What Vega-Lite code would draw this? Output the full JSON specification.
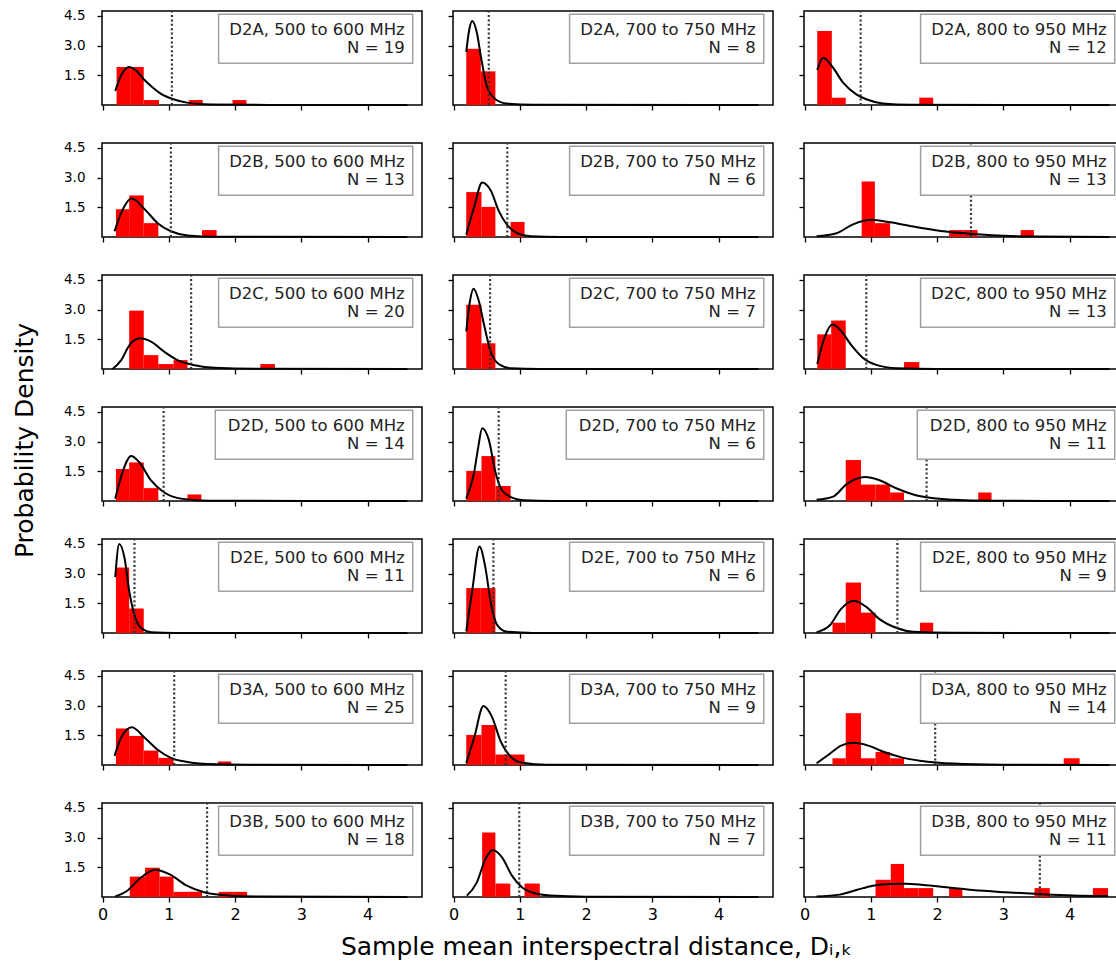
{
"$schema": "https://vega.github.io/schema/vega-lite/v6.json",
"padding": {"left": 11, "top": 8, "right": 0, "bottom": 0},
"background": "white",
"data": {"values": [
{"p":"r1c1","k":"t","x":1.045,"lab":"D2A, 500 to 600 MHz","nl":"N = 19"},
{"p":"r1c1","k":"b","x":0.21,"x2":0.415,"y":1.92},{"p":"r1c1","k":"b","x":0.415,"x2":0.62,"y":1.92},{"p":"r1c1","k":"b","x":0.62,"x2":0.85,"y":0.25},{"p":"r1c1","k":"b","x":1.30,"x2":1.51,"y":0.25},{"p":"r1c1","k":"b","x":1.96,"x2":2.17,"y":0.25},
{"p":"r1c1","k":"c","x":0.19,"y":0.71},{"p":"r1c1","k":"c","x":0.28,"y":1.5},{"p":"r1c1","k":"c","x":0.40,"y":1.92},{"p":"r1c1","k":"c","x":0.50,"y":1.75},{"p":"r1c1","k":"c","x":0.62,"y":1.30},{"p":"r1c1","k":"c","x":0.75,"y":0.90},{"p":"r1c1","k":"c","x":0.87,"y":0.59},{"p":"r1c1","k":"c","x":1.07,"y":0.29},{"p":"r1c1","k":"c","x":1.27,"y":0.12},{"p":"r1c1","k":"c","x":1.63,"y":0.03},{"p":"r1c1","k":"c","x":2.5,"y":0.005},{"p":"r1c1","k":"c","x":4.6,"y":0},
{"p":"r1c2","k":"t","x":0.53,"lab":"D2A, 700 to 750 MHz","nl":"N = 8"},
{"p":"r1c2","k":"b","x":0.19,"x2":0.41,"y":2.84},{"p":"r1c2","k":"b","x":0.41,"x2":0.63,"y":1.70},
{"p":"r1c2","k":"c","x":0.19,"y":2.68},{"p":"r1c2","k":"c","x":0.235,"y":3.8},{"p":"r1c2","k":"c","x":0.28,"y":4.24},{"p":"r1c2","k":"c","x":0.35,"y":3.65},{"p":"r1c2","k":"c","x":0.41,"y":2.47},{"p":"r1c2","k":"c","x":0.50,"y":0.96},{"p":"r1c2","k":"c","x":0.63,"y":0.29},{"p":"r1c2","k":"c","x":0.80,"y":0.07},{"p":"r1c2","k":"c","x":1.2,"y":0.01},{"p":"r1c2","k":"c","x":4.6,"y":0},
{"p":"r1c3","k":"t","x":0.845,"lab":"D2A, 800 to 950 MHz","nl":"N = 12"},
{"p":"r1c3","k":"b","x":0.19,"x2":0.41,"y":3.74},{"p":"r1c3","k":"b","x":0.41,"x2":0.62,"y":0.37},{"p":"r1c3","k":"b","x":1.73,"x2":1.94,"y":0.37},
{"p":"r1c3","k":"c","x":0.19,"y":1.77},{"p":"r1c3","k":"c","x":0.28,"y":2.39},{"p":"r1c3","k":"c","x":0.41,"y":1.97},{"p":"r1c3","k":"c","x":0.58,"y":1.13},{"p":"r1c3","k":"c","x":0.78,"y":0.54},{"p":"r1c3","k":"c","x":0.93,"y":0.29},{"p":"r1c3","k":"c","x":1.18,"y":0.08},{"p":"r1c3","k":"c","x":1.6,"y":0.01},{"p":"r1c3","k":"c","x":4.6,"y":0},
{"p":"r2c1","k":"t","x":1.03,"lab":"D2B, 500 to 600 MHz","nl":"N = 13"},
{"p":"r2c1","k":"b","x":0.20,"x2":0.40,"y":1.40},{"p":"r2c1","k":"b","x":0.40,"x2":0.62,"y":2.10},{"p":"r2c1","k":"b","x":0.62,"x2":0.84,"y":0.70},{"p":"r2c1","k":"b","x":1.50,"x2":1.72,"y":0.35},
{"p":"r2c1","k":"c","x":0.18,"y":0.29},{"p":"r2c1","k":"c","x":0.28,"y":1.22},{"p":"r2c1","k":"c","x":0.44,"y":1.94},{"p":"r2c1","k":"c","x":0.63,"y":1.42},{"p":"r2c1","k":"c","x":0.83,"y":0.70},{"p":"r2c1","k":"c","x":1.03,"y":0.29},{"p":"r2c1","k":"c","x":1.28,"y":0.08},{"p":"r2c1","k":"c","x":1.7,"y":0.01},{"p":"r2c1","k":"c","x":4.6,"y":0},
{"p":"r2c2","k":"t","x":0.81,"lab":"D2B, 700 to 750 MHz","nl":"N = 6"},
{"p":"r2c2","k":"b","x":0.19,"x2":0.42,"y":2.27},{"p":"r2c2","k":"b","x":0.42,"x2":0.63,"y":1.52},{"p":"r2c2","k":"b","x":0.86,"x2":1.07,"y":0.76},
{"p":"r2c2","k":"c","x":0.19,"y":0.12},{"p":"r2c2","k":"c","x":0.31,"y":1.53},{"p":"r2c2","k":"c","x":0.43,"y":2.76},{"p":"r2c2","k":"c","x":0.56,"y":2.35},{"p":"r2c2","k":"c","x":0.68,"y":1.32},{"p":"r2c2","k":"c","x":0.81,"y":0.60},{"p":"r2c2","k":"c","x":0.96,"y":0.19},{"p":"r2c2","k":"c","x":1.16,"y":0.04},{"p":"r2c2","k":"c","x":1.6,"y":0},{"p":"r2c2","k":"c","x":4.6,"y":0},
{"p":"r2c3","k":"t","x":2.51,"lab":"D2B, 800 to 950 MHz","nl":"N = 13"},
{"p":"r2c3","k":"b","x":0.86,"x2":1.06,"y":2.80},{"p":"r2c3","k":"b","x":1.06,"x2":1.29,"y":0.70},{"p":"r2c3","k":"b","x":2.18,"x2":2.40,"y":0.35},{"p":"r2c3","k":"b","x":2.40,"x2":2.61,"y":0.35},{"p":"r2c3","k":"b","x":3.26,"x2":3.46,"y":0.35},
{"p":"r2c3","k":"c","x":0.18,"y":0.04},{"p":"r2c3","k":"c","x":0.48,"y":0.19},{"p":"r2c3","k":"c","x":0.73,"y":0.64},{"p":"r2c3","k":"c","x":1.01,"y":0.87},{"p":"r2c3","k":"c","x":1.29,"y":0.74},{"p":"r2c3","k":"c","x":1.59,"y":0.56},{"p":"r2c3","k":"c","x":1.89,"y":0.39},{"p":"r2c3","k":"c","x":2.19,"y":0.25},{"p":"r2c3","k":"c","x":2.6,"y":0.14},{"p":"r2c3","k":"c","x":3.0,"y":0.06},{"p":"r2c3","k":"c","x":3.5,"y":0.02},{"p":"r2c3","k":"c","x":4.6,"y":0},
{"p":"r3c1","k":"t","x":1.335,"lab":"D2C, 500 to 600 MHz","nl":"N = 20"},
{"p":"r3c1","k":"b","x":0.40,"x2":0.62,"y":2.95},{"p":"r3c1","k":"b","x":0.62,"x2":0.84,"y":0.70},{"p":"r3c1","k":"b","x":0.84,"x2":1.07,"y":0.25},{"p":"r3c1","k":"b","x":1.07,"x2":1.28,"y":0.45},{"p":"r3c1","k":"b","x":2.38,"x2":2.60,"y":0.25},
{"p":"r3c1","k":"c","x":0.15,"y":0},{"p":"r3c1","k":"c","x":0.28,"y":0.45},{"p":"r3c1","k":"c","x":0.40,"y":1.18},{"p":"r3c1","k":"c","x":0.56,"y":1.55},{"p":"r3c1","k":"c","x":0.73,"y":1.38},{"p":"r3c1","k":"c","x":0.93,"y":0.87},{"p":"r3c1","k":"c","x":1.13,"y":0.45},{"p":"r3c1","k":"c","x":1.39,"y":0.19},{"p":"r3c1","k":"c","x":1.69,"y":0.06},{"p":"r3c1","k":"c","x":2.3,"y":0.01},{"p":"r3c1","k":"c","x":4.6,"y":0},
{"p":"r3c2","k":"t","x":0.55,"lab":"D2C, 700 to 750 MHz","nl":"N = 7"},
{"p":"r3c2","k":"b","x":0.19,"x2":0.42,"y":3.25},{"p":"r3c2","k":"b","x":0.42,"x2":0.63,"y":1.30},
{"p":"r3c2","k":"c","x":0.19,"y":1.90},{"p":"r3c2","k":"c","x":0.24,"y":3.3},{"p":"r3c2","k":"c","x":0.30,"y":4.06},{"p":"r3c2","k":"c","x":0.38,"y":3.44},{"p":"r3c2","k":"c","x":0.46,"y":2.21},{"p":"r3c2","k":"c","x":0.56,"y":0.87},{"p":"r3c2","k":"c","x":0.68,"y":0.25},{"p":"r3c2","k":"c","x":0.86,"y":0.04},{"p":"r3c2","k":"c","x":1.3,"y":0},{"p":"r3c2","k":"c","x":4.6,"y":0},
{"p":"r3c3","k":"t","x":0.93,"lab":"D2C, 800 to 950 MHz","nl":"N = 13"},
{"p":"r3c3","k":"b","x":0.19,"x2":0.40,"y":1.75},{"p":"r3c3","k":"b","x":0.40,"x2":0.62,"y":2.45},{"p":"r3c3","k":"b","x":1.50,"x2":1.73,"y":0.35},
{"p":"r3c3","k":"c","x":0.19,"y":0.25},{"p":"r3c3","k":"c","x":0.30,"y":1.59},{"p":"r3c3","k":"c","x":0.42,"y":2.25},{"p":"r3c3","k":"c","x":0.53,"y":2.0},{"p":"r3c3","k":"c","x":0.71,"y":1.18},{"p":"r3c3","k":"c","x":0.88,"y":0.56},{"p":"r3c3","k":"c","x":1.08,"y":0.21},{"p":"r3c3","k":"c","x":1.39,"y":0.04},{"p":"r3c3","k":"c","x":2.0,"y":0},{"p":"r3c3","k":"c","x":4.6,"y":0},
{"p":"r4c1","k":"t","x":0.92,"lab":"D2D, 500 to 600 MHz","nl":"N = 14"},
{"p":"r4c1","k":"b","x":0.20,"x2":0.40,"y":1.62},{"p":"r4c1","k":"b","x":0.40,"x2":0.62,"y":1.95},{"p":"r4c1","k":"b","x":0.62,"x2":0.84,"y":0.65},{"p":"r4c1","k":"b","x":1.28,"x2":1.49,"y":0.33},
{"p":"r4c1","k":"c","x":0.19,"y":0.12},{"p":"r4c1","k":"c","x":0.30,"y":1.46},{"p":"r4c1","k":"c","x":0.43,"y":2.28},{"p":"r4c1","k":"c","x":0.55,"y":1.97},{"p":"r4c1","k":"c","x":0.73,"y":1.04},{"p":"r4c1","k":"c","x":0.93,"y":0.43},{"p":"r4c1","k":"c","x":1.18,"y":0.12},{"p":"r4c1","k":"c","x":1.6,"y":0.01},{"p":"r4c1","k":"c","x":4.6,"y":0},
{"p":"r4c2","k":"t","x":0.68,"lab":"D2D, 700 to 750 MHz","nl":"N = 6"},
{"p":"r4c2","k":"b","x":0.19,"x2":0.42,"y":1.52},{"p":"r4c2","k":"b","x":0.42,"x2":0.63,"y":2.27},{"p":"r4c2","k":"b","x":0.63,"x2":0.86,"y":0.76},
{"p":"r4c2","k":"c","x":0.19,"y":0.12},{"p":"r4c2","k":"c","x":0.31,"y":1.46},{"p":"r4c2","k":"c","x":0.37,"y":2.7},{"p":"r4c2","k":"c","x":0.43,"y":3.68},{"p":"r4c2","k":"c","x":0.53,"y":3.1},{"p":"r4c2","k":"c","x":0.63,"y":1.46},{"p":"r4c2","k":"c","x":0.73,"y":0.53},{"p":"r4c2","k":"c","x":0.89,"y":0.16},{"p":"r4c2","k":"c","x":1.06,"y":0.04},{"p":"r4c2","k":"c","x":1.5,"y":0},{"p":"r4c2","k":"c","x":4.6,"y":0},
{"p":"r4c3","k":"t","x":1.84,"lab":"D2D, 800 to 950 MHz","nl":"N = 11"},
{"p":"r4c3","k":"b","x":0.62,"x2":0.85,"y":2.07},{"p":"r4c3","k":"b","x":0.85,"x2":1.07,"y":0.83},{"p":"r4c3","k":"b","x":1.07,"x2":1.29,"y":0.83},{"p":"r4c3","k":"b","x":1.29,"x2":1.50,"y":0.43},{"p":"r4c3","k":"b","x":2.62,"x2":2.82,"y":0.43},
{"p":"r4c3","k":"c","x":0.18,"y":0.06},{"p":"r4c3","k":"c","x":0.43,"y":0.22},{"p":"r4c3","k":"c","x":0.63,"y":0.84},{"p":"r4c3","k":"c","x":0.91,"y":1.21},{"p":"r4c3","k":"c","x":1.13,"y":1.05},{"p":"r4c3","k":"c","x":1.39,"y":0.63},{"p":"r4c3","k":"c","x":1.64,"y":0.33},{"p":"r4c3","k":"c","x":1.89,"y":0.16},{"p":"r4c3","k":"c","x":2.24,"y":0.06},{"p":"r4c3","k":"c","x":2.8,"y":0.01},{"p":"r4c3","k":"c","x":4.6,"y":0},
{"p":"r5c1","k":"t","x":0.48,"lab":"D2E, 500 to 600 MHz","nl":"N = 11"},
{"p":"r5c1","k":"b","x":0.20,"x2":0.40,"y":3.31},{"p":"r5c1","k":"b","x":0.40,"x2":0.62,"y":1.24},
{"p":"r5c1","k":"c","x":0.19,"y":2.82},{"p":"r5c1","k":"c","x":0.25,"y":4.5},{"p":"r5c1","k":"c","x":0.33,"y":3.79},{"p":"r5c1","k":"c","x":0.40,"y":2.14},{"p":"r5c1","k":"c","x":0.48,"y":0.91},{"p":"r5c1","k":"c","x":0.58,"y":0.25},{"p":"r5c1","k":"c","x":0.73,"y":0.04},{"p":"r5c1","k":"c","x":1.1,"y":0},{"p":"r5c1","k":"c","x":4.6,"y":0},
{"p":"r5c2","k":"t","x":0.60,"lab":"D2E, 700 to 750 MHz","nl":"N = 6"},
{"p":"r5c2","k":"b","x":0.19,"x2":0.41,"y":2.27},{"p":"r5c2","k":"b","x":0.41,"x2":0.63,"y":2.27},
{"p":"r5c2","k":"c","x":0.19,"y":0.08},{"p":"r5c2","k":"c","x":0.28,"y":2.14},{"p":"r5c2","k":"c","x":0.39,"y":4.37},{"p":"r5c2","k":"c","x":0.48,"y":3.28},{"p":"r5c2","k":"c","x":0.56,"y":1.53},{"p":"r5c2","k":"c","x":0.66,"y":0.39},{"p":"r5c2","k":"c","x":0.81,"y":0.06},{"p":"r5c2","k":"c","x":1.2,"y":0},{"p":"r5c2","k":"c","x":4.6,"y":0},
{"p":"r5c3","k":"t","x":1.40,"lab":"D2E, 800 to 950 MHz","nl":"N = 9"},
{"p":"r5c3","k":"b","x":0.42,"x2":0.62,"y":0.52},{"p":"r5c3","k":"b","x":0.62,"x2":0.85,"y":2.55},{"p":"r5c3","k":"b","x":0.85,"x2":1.07,"y":1.03},{"p":"r5c3","k":"b","x":1.74,"x2":1.94,"y":0.52},
{"p":"r5c3","k":"c","x":0.18,"y":0.04},{"p":"r5c3","k":"c","x":0.38,"y":0.39},{"p":"r5c3","k":"c","x":0.55,"y":1.22},{"p":"r5c3","k":"c","x":0.74,"y":1.63},{"p":"r5c3","k":"c","x":0.93,"y":1.32},{"p":"r5c3","k":"c","x":1.13,"y":0.70},{"p":"r5c3","k":"c","x":1.39,"y":0.25},{"p":"r5c3","k":"c","x":1.64,"y":0.06},{"p":"r5c3","k":"c","x":2.2,"y":0.01},{"p":"r5c3","k":"c","x":4.6,"y":0},
{"p":"r6c1","k":"t","x":1.08,"lab":"D3A, 500 to 600 MHz","nl":"N = 25"},
{"p":"r6c1","k":"b","x":0.20,"x2":0.40,"y":1.84},{"p":"r6c1","k":"b","x":0.40,"x2":0.62,"y":1.47},{"p":"r6c1","k":"b","x":0.62,"x2":0.84,"y":0.73},{"p":"r6c1","k":"b","x":0.84,"x2":1.07,"y":0.36},{"p":"r6c1","k":"b","x":1.74,"x2":1.94,"y":0.18},
{"p":"r6c1","k":"c","x":0.18,"y":0.46},{"p":"r6c1","k":"c","x":0.28,"y":1.39},{"p":"r6c1","k":"c","x":0.44,"y":1.91},{"p":"r6c1","k":"c","x":0.63,"y":1.39},{"p":"r6c1","k":"c","x":0.83,"y":0.77},{"p":"r6c1","k":"c","x":1.03,"y":0.36},{"p":"r6c1","k":"c","x":1.28,"y":0.15},{"p":"r6c1","k":"c","x":1.59,"y":0.05},{"p":"r6c1","k":"c","x":2.2,"y":0.01},{"p":"r6c1","k":"c","x":4.6,"y":0},
{"p":"r6c2","k":"t","x":0.785,"lab":"D3A, 700 to 750 MHz","nl":"N = 9"},
{"p":"r6c2","k":"b","x":0.19,"x2":0.42,"y":1.52},{"p":"r6c2","k":"b","x":0.42,"x2":0.63,"y":2.02},{"p":"r6c2","k":"b","x":0.63,"x2":0.85,"y":0.53},{"p":"r6c2","k":"b","x":0.85,"x2":1.07,"y":0.53},
{"p":"r6c2","k":"c","x":0.19,"y":0.09},{"p":"r6c2","k":"c","x":0.31,"y":1.39},{"p":"r6c2","k":"c","x":0.45,"y":2.98},{"p":"r6c2","k":"c","x":0.58,"y":2.42},{"p":"r6c2","k":"c","x":0.71,"y":1.19},{"p":"r6c2","k":"c","x":0.86,"y":0.42},{"p":"r6c2","k":"c","x":1.04,"y":0.11},{"p":"r6c2","k":"c","x":1.4,"y":0.01},{"p":"r6c2","k":"c","x":4.6,"y":0},
{"p":"r6c3","k":"t","x":1.97,"lab":"D3A, 800 to 950 MHz","nl":"N = 14"},
{"p":"r6c3","k":"b","x":0.42,"x2":0.62,"y":0.34},{"p":"r6c3","k":"b","x":0.62,"x2":0.85,"y":2.62},{"p":"r6c3","k":"b","x":0.85,"x2":1.07,"y":0.34},{"p":"r6c3","k":"b","x":1.07,"x2":1.29,"y":0.66},{"p":"r6c3","k":"b","x":1.29,"x2":1.50,"y":0.34},{"p":"r6c3","k":"b","x":3.91,"x2":4.15,"y":0.34},
{"p":"r6c3","k":"c","x":0.18,"y":0.09},{"p":"r6c3","k":"c","x":0.38,"y":0.57},{"p":"r6c3","k":"c","x":0.55,"y":0.98},{"p":"r6c3","k":"c","x":0.73,"y":1.12},{"p":"r6c3","k":"c","x":0.96,"y":0.98},{"p":"r6c3","k":"c","x":1.19,"y":0.67},{"p":"r6c3","k":"c","x":1.49,"y":0.36},{"p":"r6c3","k":"c","x":1.89,"y":0.15},{"p":"r6c3","k":"c","x":2.40,"y":0.05},{"p":"r6c3","k":"c","x":3.2,"y":0.01},{"p":"r6c3","k":"c","x":4.6,"y":0},
{"p":"r7c1","k":"t","x":1.576,"lab":"D3B, 500 to 600 MHz","nl":"N = 18"},
{"p":"r7c1","k":"b","x":0.41,"x2":0.64,"y":1.03},{"p":"r7c1","k":"b","x":0.64,"x2":0.86,"y":1.48},{"p":"r7c1","k":"b","x":0.86,"x2":1.07,"y":1.03},{"p":"r7c1","k":"b","x":1.07,"x2":1.29,"y":0.26},{"p":"r7c1","k":"b","x":1.29,"x2":1.50,"y":0.26},{"p":"r7c1","k":"b","x":1.75,"x2":1.97,"y":0.26},{"p":"r7c1","k":"b","x":1.97,"x2":2.18,"y":0.26},
{"p":"r7c1","k":"c","x":0.19,"y":0.03},{"p":"r7c1","k":"c","x":0.36,"y":0.29},{"p":"r7c1","k":"c","x":0.57,"y":0.96},{"p":"r7c1","k":"c","x":0.79,"y":1.38},{"p":"r7c1","k":"c","x":1.02,"y":1.13},{"p":"r7c1","k":"c","x":1.27,"y":0.57},{"p":"r7c1","k":"c","x":1.53,"y":0.24},{"p":"r7c1","k":"c","x":1.88,"y":0.08},{"p":"r7c1","k":"c","x":2.38,"y":0.02},{"p":"r7c1","k":"c","x":4.6,"y":0},
{"p":"r7c2","k":"t","x":0.99,"lab":"D3B, 700 to 750 MHz","nl":"N = 7"},
{"p":"r7c2","k":"b","x":0.43,"x2":0.63,"y":3.26},{"p":"r7c2","k":"b","x":0.63,"x2":0.855,"y":0.68},{"p":"r7c2","k":"b","x":1.07,"x2":1.30,"y":0.68},
{"p":"r7c2","k":"c","x":0.2,"y":0.07},{"p":"r7c2","k":"c","x":0.35,"y":0.74},{"p":"r7c2","k":"c","x":0.48,"y":1.92},{"p":"r7c2","k":"c","x":0.59,"y":2.37},{"p":"r7c2","k":"c","x":0.73,"y":2.0},{"p":"r7c2","k":"c","x":0.88,"y":1.08},{"p":"r7c2","k":"c","x":1.03,"y":0.49},{"p":"r7c2","k":"c","x":1.21,"y":0.2},{"p":"r7c2","k":"c","x":1.46,"y":0.07},{"p":"r7c2","k":"c","x":2.0,"y":0.01},{"p":"r7c2","k":"c","x":4.6,"y":0},
{"p":"r7c3","k":"t","x":3.55,"lab":"D3B, 800 to 950 MHz","nl":"N = 11"},
{"p":"r7c3","k":"b","x":1.07,"x2":1.30,"y":0.87},{"p":"r7c3","k":"b","x":1.30,"x2":1.50,"y":1.67},{"p":"r7c3","k":"b","x":1.50,"x2":1.72,"y":0.45},{"p":"r7c3","k":"b","x":1.72,"x2":1.94,"y":0.45},{"p":"r7c3","k":"b","x":2.18,"x2":2.38,"y":0.45},{"p":"r7c3","k":"b","x":3.47,"x2":3.70,"y":0.45},{"p":"r7c3","k":"b","x":4.35,"x2":4.58,"y":0.45},
{"p":"r7c3","k":"c","x":0.18,"y":0.03},{"p":"r7c3","k":"c","x":0.53,"y":0.12},{"p":"r7c3","k":"c","x":0.78,"y":0.35},{"p":"r7c3","k":"c","x":1.03,"y":0.57},{"p":"r7c3","k":"c","x":1.28,"y":0.66},{"p":"r7c3","k":"c","x":1.53,"y":0.67},{"p":"r7c3","k":"c","x":1.79,"y":0.61},{"p":"r7c3","k":"c","x":2.14,"y":0.49},{"p":"r7c3","k":"c","x":2.54,"y":0.35},{"p":"r7c3","k":"c","x":3.04,"y":0.24},{"p":"r7c3","k":"c","x":3.55,"y":0.15},{"p":"r7c3","k":"c","x":4.05,"y":0.08},{"p":"r7c3","k":"c","x":4.58,"y":0.05}
]},
"columns": 3,
"spacing": {"row": 38, "column": 31},
"bounds": "flush",
"concat": [
{"transform":[{"filter":"datum.p=='r1c1'"}],"width":320,"height":94,"layer":[{"transform":[{"filter":"datum.k=='b'"}],"mark":{"type":"rect","fill":"#ff0000"},"encoding":{"x":{"field":"x","type":"quantitative","scale":{"domain":[-0.01,4.82],"nice":false,"zero":false},"axis":{"values":[0,1,2,3,4],"format":".0f","labels":false,"title":null}},"x2":{"field":"x2"},"y":{"field":"y","type":"quantitative","scale":{"domain":[0,4.75],"nice":false,"zero":false},"axis":{"values":[1.5,3,4.5],"format":".1f","labels":true,"title":null}},"y2":{"datum":0}}},{"transform":[{"filter":"datum.k=='c'"}],"mark":{"type":"line","color":"#000","strokeWidth":2,"interpolate":"monotone"},"encoding":{"x":{"field":"x","type":"quantitative","title":null},"y":{"field":"y","type":"quantitative","title":null}}},{"transform":[{"filter":"datum.k=='t'"}],"mark":{"type":"rule","color":"#333","strokeWidth":2.2,"strokeDash":[2,2.4]},"encoding":{"x":{"field":"x","type":"quantitative","title":null},"y":{"datum":0,"title":null},"y2":{"datum":4.75}}},{"transform":[{"filter":"datum.k=='t'"}],"mark":{"type":"rect","fill":"#ffffff","stroke":"#a0a0a0","strokeWidth":1.5},"encoding":{"x":{"datum":1.75,"title":null},"x2":{"datum":4.68},"y":{"datum":2.11,"title":null},"y2":{"datum":4.58}}},{"transform":[{"filter":"datum.k=='t'"}],"mark":{"type":"text","align":"right","baseline":"alphabetic","fontSize":16.5,"color":"#222"},"encoding":{"x":{"datum":4.56,"title":null},"y":{"datum":3.56,"title":null},"text":{"field":"lab"}}},{"transform":[{"filter":"datum.k=='t'"}],"mark":{"type":"text","align":"right","baseline":"alphabetic","fontSize":16.5,"color":"#222"},"encoding":{"x":{"datum":4.56,"title":null},"y":{"datum":2.61,"title":null},"text":{"field":"nl"}}}]},
{"transform":[{"filter":"datum.p=='r1c2'"}],"width":320,"height":94,"layer":[{"transform":[{"filter":"datum.k=='b'"}],"mark":{"type":"rect","fill":"#ff0000"},"encoding":{"x":{"field":"x","type":"quantitative","scale":{"domain":[-0.01,4.82],"nice":false,"zero":false},"axis":{"values":[0,1,2,3,4],"format":".0f","labels":false,"title":null}},"x2":{"field":"x2"},"y":{"field":"y","type":"quantitative","scale":{"domain":[0,4.75],"nice":false,"zero":false},"axis":{"values":[1.5,3,4.5],"format":".1f","labels":false,"title":null}},"y2":{"datum":0}}},{"transform":[{"filter":"datum.k=='c'"}],"mark":{"type":"line","color":"#000","strokeWidth":2,"interpolate":"monotone"},"encoding":{"x":{"field":"x","type":"quantitative","title":null},"y":{"field":"y","type":"quantitative","title":null}}},{"transform":[{"filter":"datum.k=='t'"}],"mark":{"type":"rule","color":"#333","strokeWidth":2.2,"strokeDash":[2,2.4]},"encoding":{"x":{"field":"x","type":"quantitative","title":null},"y":{"datum":0,"title":null},"y2":{"datum":4.75}}},{"transform":[{"filter":"datum.k=='t'"}],"mark":{"type":"rect","fill":"#ffffff","stroke":"#a0a0a0","strokeWidth":1.5},"encoding":{"x":{"datum":1.75,"title":null},"x2":{"datum":4.68},"y":{"datum":2.11,"title":null},"y2":{"datum":4.58}}},{"transform":[{"filter":"datum.k=='t'"}],"mark":{"type":"text","align":"right","baseline":"alphabetic","fontSize":16.5,"color":"#222"},"encoding":{"x":{"datum":4.56,"title":null},"y":{"datum":3.56,"title":null},"text":{"field":"lab"}}},{"transform":[{"filter":"datum.k=='t'"}],"mark":{"type":"text","align":"right","baseline":"alphabetic","fontSize":16.5,"color":"#222"},"encoding":{"x":{"datum":4.56,"title":null},"y":{"datum":2.61,"title":null},"text":{"field":"nl"}}}]},
{"transform":[{"filter":"datum.p=='r1c3'"}],"width":320,"height":94,"layer":[{"transform":[{"filter":"datum.k=='b'"}],"mark":{"type":"rect","fill":"#ff0000"},"encoding":{"x":{"field":"x","type":"quantitative","scale":{"domain":[-0.01,4.82],"nice":false,"zero":false},"axis":{"values":[0,1,2,3,4],"format":".0f","labels":false,"title":null}},"x2":{"field":"x2"},"y":{"field":"y","type":"quantitative","scale":{"domain":[0,4.75],"nice":false,"zero":false},"axis":{"values":[1.5,3,4.5],"format":".1f","labels":false,"title":null}},"y2":{"datum":0}}},{"transform":[{"filter":"datum.k=='c'"}],"mark":{"type":"line","color":"#000","strokeWidth":2,"interpolate":"monotone"},"encoding":{"x":{"field":"x","type":"quantitative","title":null},"y":{"field":"y","type":"quantitative","title":null}}},{"transform":[{"filter":"datum.k=='t'"}],"mark":{"type":"rule","color":"#333","strokeWidth":2.2,"strokeDash":[2,2.4]},"encoding":{"x":{"field":"x","type":"quantitative","title":null},"y":{"datum":0,"title":null},"y2":{"datum":4.75}}},{"transform":[{"filter":"datum.k=='t'"}],"mark":{"type":"rect","fill":"#ffffff","stroke":"#a0a0a0","strokeWidth":1.5},"encoding":{"x":{"datum":1.75,"title":null},"x2":{"datum":4.68},"y":{"datum":2.11,"title":null},"y2":{"datum":4.58}}},{"transform":[{"filter":"datum.k=='t'"}],"mark":{"type":"text","align":"right","baseline":"alphabetic","fontSize":16.5,"color":"#222"},"encoding":{"x":{"datum":4.56,"title":null},"y":{"datum":3.56,"title":null},"text":{"field":"lab"}}},{"transform":[{"filter":"datum.k=='t'"}],"mark":{"type":"text","align":"right","baseline":"alphabetic","fontSize":16.5,"color":"#222"},"encoding":{"x":{"datum":4.56,"title":null},"y":{"datum":2.61,"title":null},"text":{"field":"nl"}}}]},
{"transform":[{"filter":"datum.p=='r2c1'"}],"width":320,"height":94,"layer":[{"transform":[{"filter":"datum.k=='b'"}],"mark":{"type":"rect","fill":"#ff0000"},"encoding":{"x":{"field":"x","type":"quantitative","scale":{"domain":[-0.01,4.82],"nice":false,"zero":false},"axis":{"values":[0,1,2,3,4],"format":".0f","labels":false,"title":null}},"x2":{"field":"x2"},"y":{"field":"y","type":"quantitative","scale":{"domain":[0,4.75],"nice":false,"zero":false},"axis":{"values":[1.5,3,4.5],"format":".1f","labels":true,"title":null}},"y2":{"datum":0}}},{"transform":[{"filter":"datum.k=='c'"}],"mark":{"type":"line","color":"#000","strokeWidth":2,"interpolate":"monotone"},"encoding":{"x":{"field":"x","type":"quantitative","title":null},"y":{"field":"y","type":"quantitative","title":null}}},{"transform":[{"filter":"datum.k=='t'"}],"mark":{"type":"rule","color":"#333","strokeWidth":2.2,"strokeDash":[2,2.4]},"encoding":{"x":{"field":"x","type":"quantitative","title":null},"y":{"datum":0,"title":null},"y2":{"datum":4.75}}},{"transform":[{"filter":"datum.k=='t'"}],"mark":{"type":"rect","fill":"#ffffff","stroke":"#a0a0a0","strokeWidth":1.5},"encoding":{"x":{"datum":1.75,"title":null},"x2":{"datum":4.68},"y":{"datum":2.11,"title":null},"y2":{"datum":4.58}}},{"transform":[{"filter":"datum.k=='t'"}],"mark":{"type":"text","align":"right","baseline":"alphabetic","fontSize":16.5,"color":"#222"},"encoding":{"x":{"datum":4.56,"title":null},"y":{"datum":3.56,"title":null},"text":{"field":"lab"}}},{"transform":[{"filter":"datum.k=='t'"}],"mark":{"type":"text","align":"right","baseline":"alphabetic","fontSize":16.5,"color":"#222"},"encoding":{"x":{"datum":4.56,"title":null},"y":{"datum":2.61,"title":null},"text":{"field":"nl"}}}]},
{"transform":[{"filter":"datum.p=='r2c2'"}],"width":320,"height":94,"layer":[{"transform":[{"filter":"datum.k=='b'"}],"mark":{"type":"rect","fill":"#ff0000"},"encoding":{"x":{"field":"x","type":"quantitative","scale":{"domain":[-0.01,4.82],"nice":false,"zero":false},"axis":{"values":[0,1,2,3,4],"format":".0f","labels":false,"title":null}},"x2":{"field":"x2"},"y":{"field":"y","type":"quantitative","scale":{"domain":[0,4.75],"nice":false,"zero":false},"axis":{"values":[1.5,3,4.5],"format":".1f","labels":false,"title":null}},"y2":{"datum":0}}},{"transform":[{"filter":"datum.k=='c'"}],"mark":{"type":"line","color":"#000","strokeWidth":2,"interpolate":"monotone"},"encoding":{"x":{"field":"x","type":"quantitative","title":null},"y":{"field":"y","type":"quantitative","title":null}}},{"transform":[{"filter":"datum.k=='t'"}],"mark":{"type":"rule","color":"#333","strokeWidth":2.2,"strokeDash":[2,2.4]},"encoding":{"x":{"field":"x","type":"quantitative","title":null},"y":{"datum":0,"title":null},"y2":{"datum":4.75}}},{"transform":[{"filter":"datum.k=='t'"}],"mark":{"type":"rect","fill":"#ffffff","stroke":"#a0a0a0","strokeWidth":1.5},"encoding":{"x":{"datum":1.75,"title":null},"x2":{"datum":4.68},"y":{"datum":2.11,"title":null},"y2":{"datum":4.58}}},{"transform":[{"filter":"datum.k=='t'"}],"mark":{"type":"text","align":"right","baseline":"alphabetic","fontSize":16.5,"color":"#222"},"encoding":{"x":{"datum":4.56,"title":null},"y":{"datum":3.56,"title":null},"text":{"field":"lab"}}},{"transform":[{"filter":"datum.k=='t'"}],"mark":{"type":"text","align":"right","baseline":"alphabetic","fontSize":16.5,"color":"#222"},"encoding":{"x":{"datum":4.56,"title":null},"y":{"datum":2.61,"title":null},"text":{"field":"nl"}}}]},
{"transform":[{"filter":"datum.p=='r2c3'"}],"width":320,"height":94,"layer":[{"transform":[{"filter":"datum.k=='b'"}],"mark":{"type":"rect","fill":"#ff0000"},"encoding":{"x":{"field":"x","type":"quantitative","scale":{"domain":[-0.01,4.82],"nice":false,"zero":false},"axis":{"values":[0,1,2,3,4],"format":".0f","labels":false,"title":null}},"x2":{"field":"x2"},"y":{"field":"y","type":"quantitative","scale":{"domain":[0,4.75],"nice":false,"zero":false},"axis":{"values":[1.5,3,4.5],"format":".1f","labels":false,"title":null}},"y2":{"datum":0}}},{"transform":[{"filter":"datum.k=='c'"}],"mark":{"type":"line","color":"#000","strokeWidth":2,"interpolate":"monotone"},"encoding":{"x":{"field":"x","type":"quantitative","title":null},"y":{"field":"y","type":"quantitative","title":null}}},{"transform":[{"filter":"datum.k=='t'"}],"mark":{"type":"rule","color":"#333","strokeWidth":2.2,"strokeDash":[2,2.4]},"encoding":{"x":{"field":"x","type":"quantitative","title":null},"y":{"datum":0,"title":null},"y2":{"datum":4.75}}},{"transform":[{"filter":"datum.k=='t'"}],"mark":{"type":"rect","fill":"#ffffff","stroke":"#a0a0a0","strokeWidth":1.5},"encoding":{"x":{"datum":1.75,"title":null},"x2":{"datum":4.68},"y":{"datum":2.11,"title":null},"y2":{"datum":4.58}}},{"transform":[{"filter":"datum.k=='t'"}],"mark":{"type":"text","align":"right","baseline":"alphabetic","fontSize":16.5,"color":"#222"},"encoding":{"x":{"datum":4.56,"title":null},"y":{"datum":3.56,"title":null},"text":{"field":"lab"}}},{"transform":[{"filter":"datum.k=='t'"}],"mark":{"type":"text","align":"right","baseline":"alphabetic","fontSize":16.5,"color":"#222"},"encoding":{"x":{"datum":4.56,"title":null},"y":{"datum":2.61,"title":null},"text":{"field":"nl"}}}]},
{"transform":[{"filter":"datum.p=='r3c1'"}],"width":320,"height":94,"layer":[{"transform":[{"filter":"datum.k=='b'"}],"mark":{"type":"rect","fill":"#ff0000"},"encoding":{"x":{"field":"x","type":"quantitative","scale":{"domain":[-0.01,4.82],"nice":false,"zero":false},"axis":{"values":[0,1,2,3,4],"format":".0f","labels":false,"title":null}},"x2":{"field":"x2"},"y":{"field":"y","type":"quantitative","scale":{"domain":[0,4.75],"nice":false,"zero":false},"axis":{"values":[1.5,3,4.5],"format":".1f","labels":true,"title":null}},"y2":{"datum":0}}},{"transform":[{"filter":"datum.k=='c'"}],"mark":{"type":"line","color":"#000","strokeWidth":2,"interpolate":"monotone"},"encoding":{"x":{"field":"x","type":"quantitative","title":null},"y":{"field":"y","type":"quantitative","title":null}}},{"transform":[{"filter":"datum.k=='t'"}],"mark":{"type":"rule","color":"#333","strokeWidth":2.2,"strokeDash":[2,2.4]},"encoding":{"x":{"field":"x","type":"quantitative","title":null},"y":{"datum":0,"title":null},"y2":{"datum":4.75}}},{"transform":[{"filter":"datum.k=='t'"}],"mark":{"type":"rect","fill":"#ffffff","stroke":"#a0a0a0","strokeWidth":1.5},"encoding":{"x":{"datum":1.75,"title":null},"x2":{"datum":4.68},"y":{"datum":2.11,"title":null},"y2":{"datum":4.58}}},{"transform":[{"filter":"datum.k=='t'"}],"mark":{"type":"text","align":"right","baseline":"alphabetic","fontSize":16.5,"color":"#222"},"encoding":{"x":{"datum":4.56,"title":null},"y":{"datum":3.56,"title":null},"text":{"field":"lab"}}},{"transform":[{"filter":"datum.k=='t'"}],"mark":{"type":"text","align":"right","baseline":"alphabetic","fontSize":16.5,"color":"#222"},"encoding":{"x":{"datum":4.56,"title":null},"y":{"datum":2.61,"title":null},"text":{"field":"nl"}}}]},
{"transform":[{"filter":"datum.p=='r3c2'"}],"width":320,"height":94,"layer":[{"transform":[{"filter":"datum.k=='b'"}],"mark":{"type":"rect","fill":"#ff0000"},"encoding":{"x":{"field":"x","type":"quantitative","scale":{"domain":[-0.01,4.82],"nice":false,"zero":false},"axis":{"values":[0,1,2,3,4],"format":".0f","labels":false,"title":null}},"x2":{"field":"x2"},"y":{"field":"y","type":"quantitative","scale":{"domain":[0,4.75],"nice":false,"zero":false},"axis":{"values":[1.5,3,4.5],"format":".1f","labels":false,"title":null}},"y2":{"datum":0}}},{"transform":[{"filter":"datum.k=='c'"}],"mark":{"type":"line","color":"#000","strokeWidth":2,"interpolate":"monotone"},"encoding":{"x":{"field":"x","type":"quantitative","title":null},"y":{"field":"y","type":"quantitative","title":null}}},{"transform":[{"filter":"datum.k=='t'"}],"mark":{"type":"rule","color":"#333","strokeWidth":2.2,"strokeDash":[2,2.4]},"encoding":{"x":{"field":"x","type":"quantitative","title":null},"y":{"datum":0,"title":null},"y2":{"datum":4.75}}},{"transform":[{"filter":"datum.k=='t'"}],"mark":{"type":"rect","fill":"#ffffff","stroke":"#a0a0a0","strokeWidth":1.5},"encoding":{"x":{"datum":1.75,"title":null},"x2":{"datum":4.68},"y":{"datum":2.11,"title":null},"y2":{"datum":4.58}}},{"transform":[{"filter":"datum.k=='t'"}],"mark":{"type":"text","align":"right","baseline":"alphabetic","fontSize":16.5,"color":"#222"},"encoding":{"x":{"datum":4.56,"title":null},"y":{"datum":3.56,"title":null},"text":{"field":"lab"}}},{"transform":[{"filter":"datum.k=='t'"}],"mark":{"type":"text","align":"right","baseline":"alphabetic","fontSize":16.5,"color":"#222"},"encoding":{"x":{"datum":4.56,"title":null},"y":{"datum":2.61,"title":null},"text":{"field":"nl"}}}]},
{"transform":[{"filter":"datum.p=='r3c3'"}],"width":320,"height":94,"layer":[{"transform":[{"filter":"datum.k=='b'"}],"mark":{"type":"rect","fill":"#ff0000"},"encoding":{"x":{"field":"x","type":"quantitative","scale":{"domain":[-0.01,4.82],"nice":false,"zero":false},"axis":{"values":[0,1,2,3,4],"format":".0f","labels":false,"title":null}},"x2":{"field":"x2"},"y":{"field":"y","type":"quantitative","scale":{"domain":[0,4.75],"nice":false,"zero":false},"axis":{"values":[1.5,3,4.5],"format":".1f","labels":false,"title":null}},"y2":{"datum":0}}},{"transform":[{"filter":"datum.k=='c'"}],"mark":{"type":"line","color":"#000","strokeWidth":2,"interpolate":"monotone"},"encoding":{"x":{"field":"x","type":"quantitative","title":null},"y":{"field":"y","type":"quantitative","title":null}}},{"transform":[{"filter":"datum.k=='t'"}],"mark":{"type":"rule","color":"#333","strokeWidth":2.2,"strokeDash":[2,2.4]},"encoding":{"x":{"field":"x","type":"quantitative","title":null},"y":{"datum":0,"title":null},"y2":{"datum":4.75}}},{"transform":[{"filter":"datum.k=='t'"}],"mark":{"type":"rect","fill":"#ffffff","stroke":"#a0a0a0","strokeWidth":1.5},"encoding":{"x":{"datum":1.75,"title":null},"x2":{"datum":4.68},"y":{"datum":2.11,"title":null},"y2":{"datum":4.58}}},{"transform":[{"filter":"datum.k=='t'"}],"mark":{"type":"text","align":"right","baseline":"alphabetic","fontSize":16.5,"color":"#222"},"encoding":{"x":{"datum":4.56,"title":null},"y":{"datum":3.56,"title":null},"text":{"field":"lab"}}},{"transform":[{"filter":"datum.k=='t'"}],"mark":{"type":"text","align":"right","baseline":"alphabetic","fontSize":16.5,"color":"#222"},"encoding":{"x":{"datum":4.56,"title":null},"y":{"datum":2.61,"title":null},"text":{"field":"nl"}}}]},
{"transform":[{"filter":"datum.p=='r4c1'"}],"width":320,"height":94,"layer":[{"transform":[{"filter":"datum.k=='b'"}],"mark":{"type":"rect","fill":"#ff0000"},"encoding":{"x":{"field":"x","type":"quantitative","scale":{"domain":[-0.01,4.82],"nice":false,"zero":false},"axis":{"values":[0,1,2,3,4],"format":".0f","labels":false,"title":null}},"x2":{"field":"x2"},"y":{"field":"y","type":"quantitative","scale":{"domain":[0,4.75],"nice":false,"zero":false},"axis":{"values":[1.5,3,4.5],"format":".1f","labels":true,"title":"Probability Density","titleY":33}},"y2":{"datum":0}}},{"transform":[{"filter":"datum.k=='c'"}],"mark":{"type":"line","color":"#000","strokeWidth":2,"interpolate":"monotone"},"encoding":{"x":{"field":"x","type":"quantitative","title":null},"y":{"field":"y","type":"quantitative","title":"Probability Density"}}},{"transform":[{"filter":"datum.k=='t'"}],"mark":{"type":"rule","color":"#333","strokeWidth":2.2,"strokeDash":[2,2.4]},"encoding":{"x":{"field":"x","type":"quantitative","title":null},"y":{"datum":0,"title":"Probability Density"},"y2":{"datum":4.75}}},{"transform":[{"filter":"datum.k=='t'"}],"mark":{"type":"rect","fill":"#ffffff","stroke":"#a0a0a0","strokeWidth":1.5},"encoding":{"x":{"datum":1.7,"title":null},"x2":{"datum":4.68},"y":{"datum":2.11,"title":"Probability Density"},"y2":{"datum":4.58}}},{"transform":[{"filter":"datum.k=='t'"}],"mark":{"type":"text","align":"right","baseline":"alphabetic","fontSize":16.5,"color":"#222"},"encoding":{"x":{"datum":4.56,"title":null},"y":{"datum":3.56,"title":"Probability Density"},"text":{"field":"lab"}}},{"transform":[{"filter":"datum.k=='t'"}],"mark":{"type":"text","align":"right","baseline":"alphabetic","fontSize":16.5,"color":"#222"},"encoding":{"x":{"datum":4.56,"title":null},"y":{"datum":2.61,"title":"Probability Density"},"text":{"field":"nl"}}}]},
{"transform":[{"filter":"datum.p=='r4c2'"}],"width":320,"height":94,"layer":[{"transform":[{"filter":"datum.k=='b'"}],"mark":{"type":"rect","fill":"#ff0000"},"encoding":{"x":{"field":"x","type":"quantitative","scale":{"domain":[-0.01,4.82],"nice":false,"zero":false},"axis":{"values":[0,1,2,3,4],"format":".0f","labels":false,"title":null}},"x2":{"field":"x2"},"y":{"field":"y","type":"quantitative","scale":{"domain":[0,4.75],"nice":false,"zero":false},"axis":{"values":[1.5,3,4.5],"format":".1f","labels":false,"title":null}},"y2":{"datum":0}}},{"transform":[{"filter":"datum.k=='c'"}],"mark":{"type":"line","color":"#000","strokeWidth":2,"interpolate":"monotone"},"encoding":{"x":{"field":"x","type":"quantitative","title":null},"y":{"field":"y","type":"quantitative","title":null}}},{"transform":[{"filter":"datum.k=='t'"}],"mark":{"type":"rule","color":"#333","strokeWidth":2.2,"strokeDash":[2,2.4]},"encoding":{"x":{"field":"x","type":"quantitative","title":null},"y":{"datum":0,"title":null},"y2":{"datum":4.75}}},{"transform":[{"filter":"datum.k=='t'"}],"mark":{"type":"rect","fill":"#ffffff","stroke":"#a0a0a0","strokeWidth":1.5},"encoding":{"x":{"datum":1.7,"title":null},"x2":{"datum":4.68},"y":{"datum":2.11,"title":null},"y2":{"datum":4.58}}},{"transform":[{"filter":"datum.k=='t'"}],"mark":{"type":"text","align":"right","baseline":"alphabetic","fontSize":16.5,"color":"#222"},"encoding":{"x":{"datum":4.56,"title":null},"y":{"datum":3.56,"title":null},"text":{"field":"lab"}}},{"transform":[{"filter":"datum.k=='t'"}],"mark":{"type":"text","align":"right","baseline":"alphabetic","fontSize":16.5,"color":"#222"},"encoding":{"x":{"datum":4.56,"title":null},"y":{"datum":2.61,"title":null},"text":{"field":"nl"}}}]},
{"transform":[{"filter":"datum.p=='r4c3'"}],"width":320,"height":94,"layer":[{"transform":[{"filter":"datum.k=='b'"}],"mark":{"type":"rect","fill":"#ff0000"},"encoding":{"x":{"field":"x","type":"quantitative","scale":{"domain":[-0.01,4.82],"nice":false,"zero":false},"axis":{"values":[0,1,2,3,4],"format":".0f","labels":false,"title":null}},"x2":{"field":"x2"},"y":{"field":"y","type":"quantitative","scale":{"domain":[0,4.75],"nice":false,"zero":false},"axis":{"values":[1.5,3,4.5],"format":".1f","labels":false,"title":null}},"y2":{"datum":0}}},{"transform":[{"filter":"datum.k=='c'"}],"mark":{"type":"line","color":"#000","strokeWidth":2,"interpolate":"monotone"},"encoding":{"x":{"field":"x","type":"quantitative","title":null},"y":{"field":"y","type":"quantitative","title":null}}},{"transform":[{"filter":"datum.k=='t'"}],"mark":{"type":"rule","color":"#333","strokeWidth":2.2,"strokeDash":[2,2.4]},"encoding":{"x":{"field":"x","type":"quantitative","title":null},"y":{"datum":0,"title":null},"y2":{"datum":4.75}}},{"transform":[{"filter":"datum.k=='t'"}],"mark":{"type":"rect","fill":"#ffffff","stroke":"#a0a0a0","strokeWidth":1.5},"encoding":{"x":{"datum":1.7,"title":null},"x2":{"datum":4.68},"y":{"datum":2.11,"title":null},"y2":{"datum":4.58}}},{"transform":[{"filter":"datum.k=='t'"}],"mark":{"type":"text","align":"right","baseline":"alphabetic","fontSize":16.5,"color":"#222"},"encoding":{"x":{"datum":4.56,"title":null},"y":{"datum":3.56,"title":null},"text":{"field":"lab"}}},{"transform":[{"filter":"datum.k=='t'"}],"mark":{"type":"text","align":"right","baseline":"alphabetic","fontSize":16.5,"color":"#222"},"encoding":{"x":{"datum":4.56,"title":null},"y":{"datum":2.61,"title":null},"text":{"field":"nl"}}}]},
{"transform":[{"filter":"datum.p=='r5c1'"}],"width":320,"height":94,"layer":[{"transform":[{"filter":"datum.k=='b'"}],"mark":{"type":"rect","fill":"#ff0000"},"encoding":{"x":{"field":"x","type":"quantitative","scale":{"domain":[-0.01,4.82],"nice":false,"zero":false},"axis":{"values":[0,1,2,3,4],"format":".0f","labels":false,"title":null}},"x2":{"field":"x2"},"y":{"field":"y","type":"quantitative","scale":{"domain":[0,4.75],"nice":false,"zero":false},"axis":{"values":[1.5,3,4.5],"format":".1f","labels":true,"title":null}},"y2":{"datum":0}}},{"transform":[{"filter":"datum.k=='c'"}],"mark":{"type":"line","color":"#000","strokeWidth":2,"interpolate":"monotone"},"encoding":{"x":{"field":"x","type":"quantitative","title":null},"y":{"field":"y","type":"quantitative","title":null}}},{"transform":[{"filter":"datum.k=='t'"}],"mark":{"type":"rule","color":"#333","strokeWidth":2.2,"strokeDash":[2,2.4]},"encoding":{"x":{"field":"x","type":"quantitative","title":null},"y":{"datum":0,"title":null},"y2":{"datum":4.75}}},{"transform":[{"filter":"datum.k=='t'"}],"mark":{"type":"rect","fill":"#ffffff","stroke":"#a0a0a0","strokeWidth":1.5},"encoding":{"x":{"datum":1.75,"title":null},"x2":{"datum":4.68},"y":{"datum":2.11,"title":null},"y2":{"datum":4.58}}},{"transform":[{"filter":"datum.k=='t'"}],"mark":{"type":"text","align":"right","baseline":"alphabetic","fontSize":16.5,"color":"#222"},"encoding":{"x":{"datum":4.56,"title":null},"y":{"datum":3.56,"title":null},"text":{"field":"lab"}}},{"transform":[{"filter":"datum.k=='t'"}],"mark":{"type":"text","align":"right","baseline":"alphabetic","fontSize":16.5,"color":"#222"},"encoding":{"x":{"datum":4.56,"title":null},"y":{"datum":2.61,"title":null},"text":{"field":"nl"}}}]},
{"transform":[{"filter":"datum.p=='r5c2'"}],"width":320,"height":94,"layer":[{"transform":[{"filter":"datum.k=='b'"}],"mark":{"type":"rect","fill":"#ff0000"},"encoding":{"x":{"field":"x","type":"quantitative","scale":{"domain":[-0.01,4.82],"nice":false,"zero":false},"axis":{"values":[0,1,2,3,4],"format":".0f","labels":false,"title":null}},"x2":{"field":"x2"},"y":{"field":"y","type":"quantitative","scale":{"domain":[0,4.75],"nice":false,"zero":false},"axis":{"values":[1.5,3,4.5],"format":".1f","labels":false,"title":null}},"y2":{"datum":0}}},{"transform":[{"filter":"datum.k=='c'"}],"mark":{"type":"line","color":"#000","strokeWidth":2,"interpolate":"monotone"},"encoding":{"x":{"field":"x","type":"quantitative","title":null},"y":{"field":"y","type":"quantitative","title":null}}},{"transform":[{"filter":"datum.k=='t'"}],"mark":{"type":"rule","color":"#333","strokeWidth":2.2,"strokeDash":[2,2.4]},"encoding":{"x":{"field":"x","type":"quantitative","title":null},"y":{"datum":0,"title":null},"y2":{"datum":4.75}}},{"transform":[{"filter":"datum.k=='t'"}],"mark":{"type":"rect","fill":"#ffffff","stroke":"#a0a0a0","strokeWidth":1.5},"encoding":{"x":{"datum":1.75,"title":null},"x2":{"datum":4.68},"y":{"datum":2.11,"title":null},"y2":{"datum":4.58}}},{"transform":[{"filter":"datum.k=='t'"}],"mark":{"type":"text","align":"right","baseline":"alphabetic","fontSize":16.5,"color":"#222"},"encoding":{"x":{"datum":4.56,"title":null},"y":{"datum":3.56,"title":null},"text":{"field":"lab"}}},{"transform":[{"filter":"datum.k=='t'"}],"mark":{"type":"text","align":"right","baseline":"alphabetic","fontSize":16.5,"color":"#222"},"encoding":{"x":{"datum":4.56,"title":null},"y":{"datum":2.61,"title":null},"text":{"field":"nl"}}}]},
{"transform":[{"filter":"datum.p=='r5c3'"}],"width":320,"height":94,"layer":[{"transform":[{"filter":"datum.k=='b'"}],"mark":{"type":"rect","fill":"#ff0000"},"encoding":{"x":{"field":"x","type":"quantitative","scale":{"domain":[-0.01,4.82],"nice":false,"zero":false},"axis":{"values":[0,1,2,3,4],"format":".0f","labels":false,"title":null}},"x2":{"field":"x2"},"y":{"field":"y","type":"quantitative","scale":{"domain":[0,4.75],"nice":false,"zero":false},"axis":{"values":[1.5,3,4.5],"format":".1f","labels":false,"title":null}},"y2":{"datum":0}}},{"transform":[{"filter":"datum.k=='c'"}],"mark":{"type":"line","color":"#000","strokeWidth":2,"interpolate":"monotone"},"encoding":{"x":{"field":"x","type":"quantitative","title":null},"y":{"field":"y","type":"quantitative","title":null}}},{"transform":[{"filter":"datum.k=='t'"}],"mark":{"type":"rule","color":"#333","strokeWidth":2.2,"strokeDash":[2,2.4]},"encoding":{"x":{"field":"x","type":"quantitative","title":null},"y":{"datum":0,"title":null},"y2":{"datum":4.75}}},{"transform":[{"filter":"datum.k=='t'"}],"mark":{"type":"rect","fill":"#ffffff","stroke":"#a0a0a0","strokeWidth":1.5},"encoding":{"x":{"datum":1.75,"title":null},"x2":{"datum":4.68},"y":{"datum":2.11,"title":null},"y2":{"datum":4.58}}},{"transform":[{"filter":"datum.k=='t'"}],"mark":{"type":"text","align":"right","baseline":"alphabetic","fontSize":16.5,"color":"#222"},"encoding":{"x":{"datum":4.56,"title":null},"y":{"datum":3.56,"title":null},"text":{"field":"lab"}}},{"transform":[{"filter":"datum.k=='t'"}],"mark":{"type":"text","align":"right","baseline":"alphabetic","fontSize":16.5,"color":"#222"},"encoding":{"x":{"datum":4.56,"title":null},"y":{"datum":2.61,"title":null},"text":{"field":"nl"}}}]},
{"transform":[{"filter":"datum.p=='r6c1'"}],"width":320,"height":94,"layer":[{"transform":[{"filter":"datum.k=='b'"}],"mark":{"type":"rect","fill":"#ff0000"},"encoding":{"x":{"field":"x","type":"quantitative","scale":{"domain":[-0.01,4.82],"nice":false,"zero":false},"axis":{"values":[0,1,2,3,4],"format":".0f","labels":false,"title":null}},"x2":{"field":"x2"},"y":{"field":"y","type":"quantitative","scale":{"domain":[0,4.75],"nice":false,"zero":false},"axis":{"values":[1.5,3,4.5],"format":".1f","labels":true,"title":null}},"y2":{"datum":0}}},{"transform":[{"filter":"datum.k=='c'"}],"mark":{"type":"line","color":"#000","strokeWidth":2,"interpolate":"monotone"},"encoding":{"x":{"field":"x","type":"quantitative","title":null},"y":{"field":"y","type":"quantitative","title":null}}},{"transform":[{"filter":"datum.k=='t'"}],"mark":{"type":"rule","color":"#333","strokeWidth":2.2,"strokeDash":[2,2.4]},"encoding":{"x":{"field":"x","type":"quantitative","title":null},"y":{"datum":0,"title":null},"y2":{"datum":4.75}}},{"transform":[{"filter":"datum.k=='t'"}],"mark":{"type":"rect","fill":"#ffffff","stroke":"#a0a0a0","strokeWidth":1.5},"encoding":{"x":{"datum":1.75,"title":null},"x2":{"datum":4.68},"y":{"datum":2.11,"title":null},"y2":{"datum":4.58}}},{"transform":[{"filter":"datum.k=='t'"}],"mark":{"type":"text","align":"right","baseline":"alphabetic","fontSize":16.5,"color":"#222"},"encoding":{"x":{"datum":4.56,"title":null},"y":{"datum":3.56,"title":null},"text":{"field":"lab"}}},{"transform":[{"filter":"datum.k=='t'"}],"mark":{"type":"text","align":"right","baseline":"alphabetic","fontSize":16.5,"color":"#222"},"encoding":{"x":{"datum":4.56,"title":null},"y":{"datum":2.61,"title":null},"text":{"field":"nl"}}}]},
{"transform":[{"filter":"datum.p=='r6c2'"}],"width":320,"height":94,"layer":[{"transform":[{"filter":"datum.k=='b'"}],"mark":{"type":"rect","fill":"#ff0000"},"encoding":{"x":{"field":"x","type":"quantitative","scale":{"domain":[-0.01,4.82],"nice":false,"zero":false},"axis":{"values":[0,1,2,3,4],"format":".0f","labels":false,"title":null}},"x2":{"field":"x2"},"y":{"field":"y","type":"quantitative","scale":{"domain":[0,4.75],"nice":false,"zero":false},"axis":{"values":[1.5,3,4.5],"format":".1f","labels":false,"title":null}},"y2":{"datum":0}}},{"transform":[{"filter":"datum.k=='c'"}],"mark":{"type":"line","color":"#000","strokeWidth":2,"interpolate":"monotone"},"encoding":{"x":{"field":"x","type":"quantitative","title":null},"y":{"field":"y","type":"quantitative","title":null}}},{"transform":[{"filter":"datum.k=='t'"}],"mark":{"type":"rule","color":"#333","strokeWidth":2.2,"strokeDash":[2,2.4]},"encoding":{"x":{"field":"x","type":"quantitative","title":null},"y":{"datum":0,"title":null},"y2":{"datum":4.75}}},{"transform":[{"filter":"datum.k=='t'"}],"mark":{"type":"rect","fill":"#ffffff","stroke":"#a0a0a0","strokeWidth":1.5},"encoding":{"x":{"datum":1.75,"title":null},"x2":{"datum":4.68},"y":{"datum":2.11,"title":null},"y2":{"datum":4.58}}},{"transform":[{"filter":"datum.k=='t'"}],"mark":{"type":"text","align":"right","baseline":"alphabetic","fontSize":16.5,"color":"#222"},"encoding":{"x":{"datum":4.56,"title":null},"y":{"datum":3.56,"title":null},"text":{"field":"lab"}}},{"transform":[{"filter":"datum.k=='t'"}],"mark":{"type":"text","align":"right","baseline":"alphabetic","fontSize":16.5,"color":"#222"},"encoding":{"x":{"datum":4.56,"title":null},"y":{"datum":2.61,"title":null},"text":{"field":"nl"}}}]},
{"transform":[{"filter":"datum.p=='r6c3'"}],"width":320,"height":94,"layer":[{"transform":[{"filter":"datum.k=='b'"}],"mark":{"type":"rect","fill":"#ff0000"},"encoding":{"x":{"field":"x","type":"quantitative","scale":{"domain":[-0.01,4.82],"nice":false,"zero":false},"axis":{"values":[0,1,2,3,4],"format":".0f","labels":false,"title":null}},"x2":{"field":"x2"},"y":{"field":"y","type":"quantitative","scale":{"domain":[0,4.75],"nice":false,"zero":false},"axis":{"values":[1.5,3,4.5],"format":".1f","labels":false,"title":null}},"y2":{"datum":0}}},{"transform":[{"filter":"datum.k=='c'"}],"mark":{"type":"line","color":"#000","strokeWidth":2,"interpolate":"monotone"},"encoding":{"x":{"field":"x","type":"quantitative","title":null},"y":{"field":"y","type":"quantitative","title":null}}},{"transform":[{"filter":"datum.k=='t'"}],"mark":{"type":"rule","color":"#333","strokeWidth":2.2,"strokeDash":[2,2.4]},"encoding":{"x":{"field":"x","type":"quantitative","title":null},"y":{"datum":0,"title":null},"y2":{"datum":4.75}}},{"transform":[{"filter":"datum.k=='t'"}],"mark":{"type":"rect","fill":"#ffffff","stroke":"#a0a0a0","strokeWidth":1.5},"encoding":{"x":{"datum":1.75,"title":null},"x2":{"datum":4.68},"y":{"datum":2.11,"title":null},"y2":{"datum":4.58}}},{"transform":[{"filter":"datum.k=='t'"}],"mark":{"type":"text","align":"right","baseline":"alphabetic","fontSize":16.5,"color":"#222"},"encoding":{"x":{"datum":4.56,"title":null},"y":{"datum":3.56,"title":null},"text":{"field":"lab"}}},{"transform":[{"filter":"datum.k=='t'"}],"mark":{"type":"text","align":"right","baseline":"alphabetic","fontSize":16.5,"color":"#222"},"encoding":{"x":{"datum":4.56,"title":null},"y":{"datum":2.61,"title":null},"text":{"field":"nl"}}}]},
{"transform":[{"filter":"datum.p=='r7c1'"}],"width":320,"height":94,"layer":[{"transform":[{"filter":"datum.k=='b'"}],"mark":{"type":"rect","fill":"#ff0000"},"encoding":{"x":{"field":"x","type":"quantitative","scale":{"domain":[-0.01,4.82],"nice":false,"zero":false},"axis":{"values":[0,1,2,3,4],"format":".0f","labels":true,"title":null}},"x2":{"field":"x2"},"y":{"field":"y","type":"quantitative","scale":{"domain":[0,4.75],"nice":false,"zero":false},"axis":{"values":[1.5,3,4.5],"format":".1f","labels":true,"title":null}},"y2":{"datum":0}}},{"transform":[{"filter":"datum.k=='c'"}],"mark":{"type":"line","color":"#000","strokeWidth":2,"interpolate":"monotone"},"encoding":{"x":{"field":"x","type":"quantitative","title":null},"y":{"field":"y","type":"quantitative","title":null}}},{"transform":[{"filter":"datum.k=='t'"}],"mark":{"type":"rule","color":"#333","strokeWidth":2.2,"strokeDash":[2,2.4]},"encoding":{"x":{"field":"x","type":"quantitative","title":null},"y":{"datum":0,"title":null},"y2":{"datum":4.75}}},{"transform":[{"filter":"datum.k=='t'"}],"mark":{"type":"rect","fill":"#ffffff","stroke":"#a0a0a0","strokeWidth":1.5},"encoding":{"x":{"datum":1.75,"title":null},"x2":{"datum":4.68},"y":{"datum":2.11,"title":null},"y2":{"datum":4.58}}},{"transform":[{"filter":"datum.k=='t'"}],"mark":{"type":"text","align":"right","baseline":"alphabetic","fontSize":16.5,"color":"#222"},"encoding":{"x":{"datum":4.56,"title":null},"y":{"datum":3.56,"title":null},"text":{"field":"lab"}}},{"transform":[{"filter":"datum.k=='t'"}],"mark":{"type":"text","align":"right","baseline":"alphabetic","fontSize":16.5,"color":"#222"},"encoding":{"x":{"datum":4.56,"title":null},"y":{"datum":2.61,"title":null},"text":{"field":"nl"}}}]},
{"transform":[{"filter":"datum.p=='r7c2'"}],"width":320,"height":94,"layer":[{"transform":[{"filter":"datum.k=='b'"}],"mark":{"type":"rect","fill":"#ff0000"},"encoding":{"x":{"field":"x","type":"quantitative","scale":{"domain":[-0.01,4.82],"nice":false,"zero":false},"axis":{"values":[0,1,2,3,4],"format":".0f","labels":true,"title":"Sample mean interspectral distance, Dᵢ,ₖ","titleX":143}},"x2":{"field":"x2"},"y":{"field":"y","type":"quantitative","scale":{"domain":[0,4.75],"nice":false,"zero":false},"axis":{"values":[1.5,3,4.5],"format":".1f","labels":false,"title":null}},"y2":{"datum":0}}},{"transform":[{"filter":"datum.k=='c'"}],"mark":{"type":"line","color":"#000","strokeWidth":2,"interpolate":"monotone"},"encoding":{"x":{"field":"x","type":"quantitative","title":"Sample mean interspectral distance, Dᵢ,ₖ"},"y":{"field":"y","type":"quantitative","title":null}}},{"transform":[{"filter":"datum.k=='t'"}],"mark":{"type":"rule","color":"#333","strokeWidth":2.2,"strokeDash":[2,2.4]},"encoding":{"x":{"field":"x","type":"quantitative","title":"Sample mean interspectral distance, Dᵢ,ₖ"},"y":{"datum":0,"title":null},"y2":{"datum":4.75}}},{"transform":[{"filter":"datum.k=='t'"}],"mark":{"type":"rect","fill":"#ffffff","stroke":"#a0a0a0","strokeWidth":1.5},"encoding":{"x":{"datum":1.75,"title":"Sample mean interspectral distance, Dᵢ,ₖ"},"x2":{"datum":4.68},"y":{"datum":2.11,"title":null},"y2":{"datum":4.58}}},{"transform":[{"filter":"datum.k=='t'"}],"mark":{"type":"text","align":"right","baseline":"alphabetic","fontSize":16.5,"color":"#222"},"encoding":{"x":{"datum":4.56,"title":"Sample mean interspectral distance, Dᵢ,ₖ"},"y":{"datum":3.56,"title":null},"text":{"field":"lab"}}},{"transform":[{"filter":"datum.k=='t'"}],"mark":{"type":"text","align":"right","baseline":"alphabetic","fontSize":16.5,"color":"#222"},"encoding":{"x":{"datum":4.56,"title":"Sample mean interspectral distance, Dᵢ,ₖ"},"y":{"datum":2.61,"title":null},"text":{"field":"nl"}}}]},
{"transform":[{"filter":"datum.p=='r7c3'"}],"width":320,"height":94,"layer":[{"transform":[{"filter":"datum.k=='b'"}],"mark":{"type":"rect","fill":"#ff0000"},"encoding":{"x":{"field":"x","type":"quantitative","scale":{"domain":[-0.01,4.82],"nice":false,"zero":false},"axis":{"values":[0,1,2,3,4],"format":".0f","labels":true,"title":null}},"x2":{"field":"x2"},"y":{"field":"y","type":"quantitative","scale":{"domain":[0,4.75],"nice":false,"zero":false},"axis":{"values":[1.5,3,4.5],"format":".1f","labels":false,"title":null}},"y2":{"datum":0}}},{"transform":[{"filter":"datum.k=='c'"}],"mark":{"type":"line","color":"#000","strokeWidth":2,"interpolate":"monotone"},"encoding":{"x":{"field":"x","type":"quantitative","title":null},"y":{"field":"y","type":"quantitative","title":null}}},{"transform":[{"filter":"datum.k=='t'"}],"mark":{"type":"rule","color":"#333","strokeWidth":2.2,"strokeDash":[2,2.4]},"encoding":{"x":{"field":"x","type":"quantitative","title":null},"y":{"datum":0,"title":null},"y2":{"datum":4.75}}},{"transform":[{"filter":"datum.k=='t'"}],"mark":{"type":"rect","fill":"#ffffff","stroke":"#a0a0a0","strokeWidth":1.5},"encoding":{"x":{"datum":1.75,"title":null},"x2":{"datum":4.68},"y":{"datum":2.11,"title":null},"y2":{"datum":4.58}}},{"transform":[{"filter":"datum.k=='t'"}],"mark":{"type":"text","align":"right","baseline":"alphabetic","fontSize":16.5,"color":"#222"},"encoding":{"x":{"datum":4.56,"title":null},"y":{"datum":3.56,"title":null},"text":{"field":"lab"}}},{"transform":[{"filter":"datum.k=='t'"}],"mark":{"type":"text","align":"right","baseline":"alphabetic","fontSize":16.5,"color":"#222"},"encoding":{"x":{"datum":4.56,"title":null},"y":{"datum":2.61,"title":null},"text":{"field":"nl"}}}]}
],
"config": {
"font": "DejaVu Sans",
"view": {"stroke": "#000", "strokeWidth": 1.5},
"axis": {"domain": false, "grid": false, "tickColor": "#000", "tickSize": 5, "tickWidth": 1.3, "labelColor": "#000", "labelFont": "DejaVu Sans", "labelFlush": false, "titleFont": "DejaVu Sans", "titleFontWeight": "normal", "titleColor": "#000", "titleFontSize": 25},
"axisX": {"labelFontSize": 16, "labelPadding": 4, "titlePadding": 12},
"axisY": {"labelFontSize": 13.5, "labelPadding": 12, "titlePadding": 26}
}
}
